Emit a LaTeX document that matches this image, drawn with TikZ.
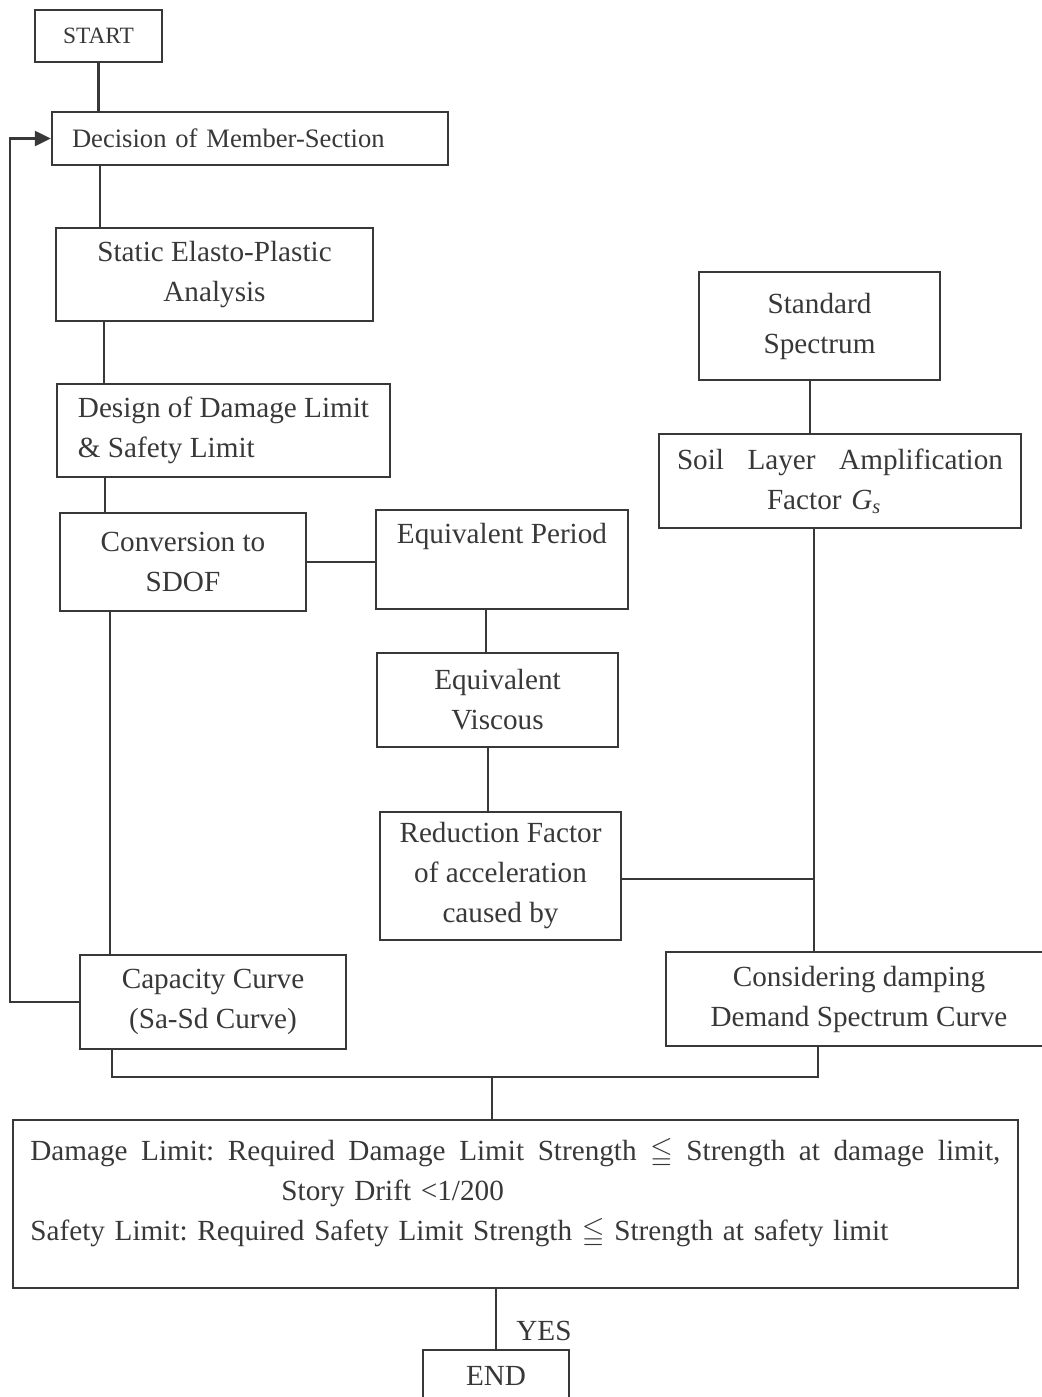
\documentclass[tikz,border=0pt]{standalone}
\usepackage{amssymb}
\usepackage{fontspec}
\setmainfont{Liberation Serif}
\usepackage{tikz}
\usetikzlibrary{arrows.meta, positioning}
\frenchspacing
\definecolor{ink}{HTML}{383838}
\newcommand{\boxfont}{\fontsize{14.6}{20}\selectfont}
\newcommand{\smallboxfont}{\fontsize{13.3}{18}\selectfont}
\newcommand{\termfont}{\fontsize{11.7}{14}\selectfont}
\newcommand{\spreadline}[2]{\makebox[#1][s]{\spaceskip=.3333em plus 1fil\relax #2}}
\tikzstyle{process} = [rectangle, draw=ink, line width=1.2pt, text=ink, font=\boxfont, align=center, inner sep=0pt]
\tikzstyle{terminal} = [process, font=\termfont]
\tikzstyle{link} = [draw=ink, line width=1.2pt]
\tikzstyle{back} = [link, -{Triangle[length=8pt, width=7.5pt]}]

\begin{document}
\begin{tikzpicture}[x=0.5pt, y=-0.5pt]
  \useasboundingbox (0,0) rectangle (1042,1397);

  % 左列
  \node[terminal, minimum width=63.5pt, minimum height=26pt] (start) at (98.5,36) {START};
  \node[process, font=\smallboxfont, text width=178pt, inner xsep=10pt, align=left, minimum height=26.5pt] (decision) at (250,138.5) {Decision of Member-Section};
  \node[process, minimum width=158.5pt, minimum height=46.5pt] (static) at (214.5,274.5) {Static Elasto-Plastic\\Analysis};
  \node[process, align=left, minimum width=166.5pt, minimum height=46.5pt] (design) at (223.5,430.5) {Design of Damage Limit\\\& Safety Limit};
  \node[process, minimum width=123pt, minimum height=49pt] (conv) at (183,562) {Conversion to\\SDOF};
  \node[process, minimum width=133pt, minimum height=47pt] (cap) at (213,1002) {Capacity Curve\\(Sa-Sd Curve)};

  % 中列
  \node[process, minimum width=126pt, minimum height=49.5pt] (eqp) at (502,559.5) {Equivalent Period\\\strut};
  \node[process, minimum width=120.5pt, minimum height=47pt] (eqv) at (497.5,700) {Equivalent\\Viscous};
  \node[process, minimum width=120.5pt, minimum height=64pt] (red) at (500.5,876) {Reduction Factor\\of acceleration\\caused by};

  % 右列
  \node[process, minimum width=120.5pt, minimum height=54pt] (std) at (819.5,326) {Standard\\Spectrum};
  \node[process, text width=163pt, inner xsep=9pt, align=left, minimum height=47pt] (soil) at (840,481) {\spreadline{163pt}{Soil Layer Amplification}\\\hspace*{45pt}Factor \textit{G}\textsubscript{\textit{s}}};
  \node[process, minimum width=193pt, minimum height=47pt] (consid) at (859,999) {Considering damping\\Demand Spectrum Curve};

  % 判定与结束
  \node[process, minimum width=502.5pt, minimum height=84pt] (check) at (515.5,1204) {};
  \node[anchor=north west, inner sep=0pt, text width=485pt, align=left, font=\boxfont, text=ink] (checktext) at (30,1138) {\spreadline{485pt}{Damage Limit: Required Damage Limit Strength $\leqq$ Strength at damage limit,}\\\hspace*{125.5pt}Story Drift <1/200\\Safety Limit: Required Safety Limit Strength $\leqq$ Strength at safety limit};
  \node[terminal, font=\boxfont, minimum width=73pt, minimum height=26pt] (finish) at (496,1376) {END};
  \node[anchor=west, inner sep=0pt, font=\boxfont, text=ink] (yes) at (516,1331) {YES};

  % 连线
  \draw[link] (start.south) -- (start.south |- decision.north);
  \draw[link] ([xshift=-75pt]decision.south) -- ([xshift=-75pt]decision.south |- static.north);
  \draw[link] ([xshift=-55.25pt]static.south) -- ([xshift=-55.25pt]static.south |- design.north);
  \draw[link] ([xshift=-59.25pt]design.south) -- ([xshift=-59.25pt]design.south |- conv.north);
  \draw[link] ([xshift=-36.5pt]conv.south) -- ([xshift=-36.5pt]conv.south |- cap.north);
  \draw[link] (conv.east) -- (conv.east -| eqp.west);
  \draw[link] ([xshift=-8pt]eqp.south) -- ([xshift=-8pt]eqp.south |- eqv.north);
  \draw[link] ([xshift=-4.75pt]eqv.south) -- ([xshift=-4.75pt]eqv.south |- red.north);
  \draw[link] ([xshift=-4.75pt]std.south) -- ([xshift=-4.75pt]std.south |- soil.north);

  \coordinate (gs) at ([xshift=-13pt]soil.south);
  \draw[link] (gs) -- (gs |- consid.north);
  \draw[link] ([yshift=-1.5pt]red.east) -- ([yshift=-1.5pt]red.east -| gs);

  % 汇合
  \coordinate (merge) at (492,1077);
  \draw[link] ([xshift=-50.5pt]cap.south) |- (merge) -| ([xshift=-20.5pt]consid.south);
  \draw[link] (merge) -- (merge |- check.north);
  \draw[link] (check.south -| finish.north) -- (finish.north);

  % 返回
  \coordinate (loop) at (10,1003);
  \draw[back] (cap.west) -- (cap.west -| loop) |- (decision.west);
\end{tikzpicture}
\end{document}
